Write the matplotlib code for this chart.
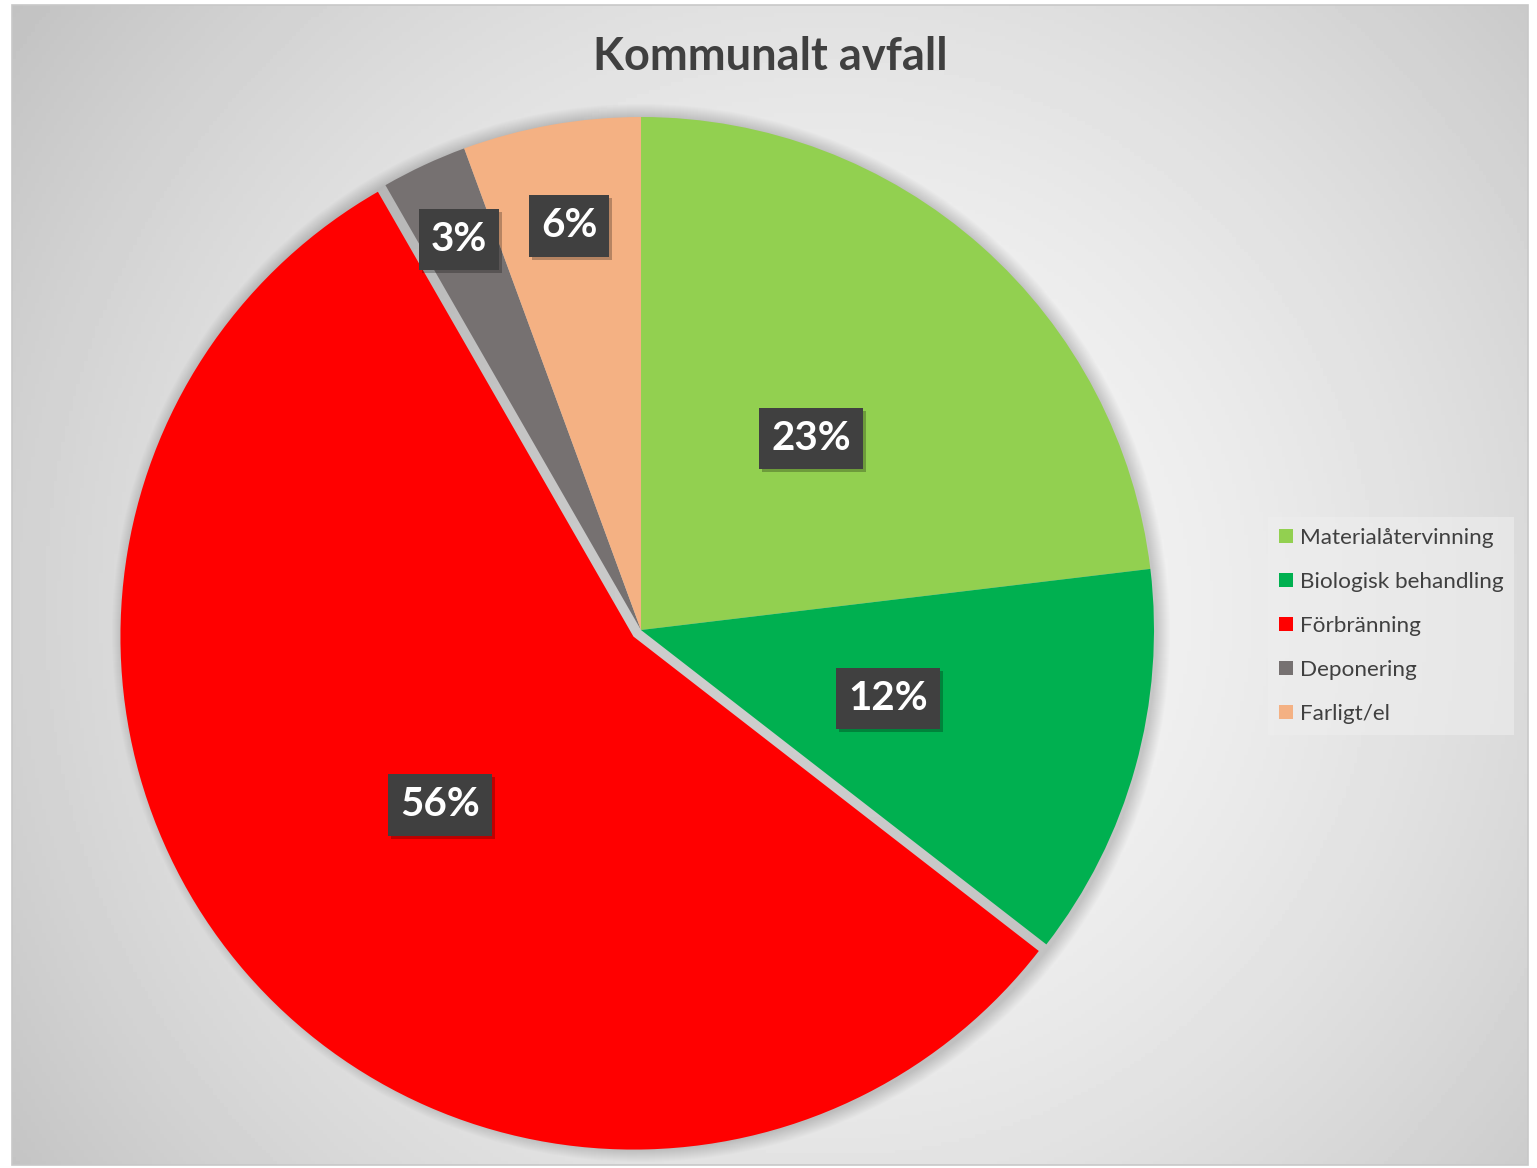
import numpy as np
import matplotlib.pyplot as plt
from matplotlib.patches import Rectangle, Circle
from matplotlib.transforms import offset_copy

# data
title = 'Kommunalt avfall'
categories = ['Materialåtervinning', 'Biologisk behandling', 'Förbränning',
              'Deponering', 'Farligt/el']
shares = [23.1, 12.4, 56.2, 2.7, 5.6]
colors = ['#92D050', '#00B050', '#FF0000', '#767171', '#F4B183']
explode = [0, 0, 10, 0, 0]          # pixels, red slice pulled out a bit
label_dist = [0.5, 0.5, 0.5, 0.84, 0.8]

plt.rcParams['font.family'] = ['Lato', 'DejaVu Sans']

W, H = 1537, 1168
fig = plt.figure(figsize=(W/100, H/100), dpi=100)
ax = fig.add_axes([0, 0, 1, 1])
ax.set_xlim(0, W)
ax.set_ylim(0, H)
ax.axis('off')

# chart area with radial gradient background
x0, x1, y0, y1 = 12, 1528, 3, 1163
gx, gy = np.meshgrid(np.linspace(x0, x1, 400), np.linspace(y0, y1, 300))
d = np.hypot(gx - 830, gy - 560)
g = np.clip(0.975 - 0.21*(d/1000)**1.6, 0, 1)
ax.imshow(g, extent=(x0, x1, y0, y1), origin='lower', cmap='gray',
          vmin=0, vmax=1, aspect='auto', zorder=0)
ax.add_patch(Rectangle((x0, y0), x1-x0, y1-y0, fill=False,
                       edgecolor='#c8c8c8', lw=1.2, zorder=1))

cx, cy, R = 641, H - 630, 513

# soft shadow round the pie
for k in range(14):
    ax.add_patch(Circle((cx, cy - 3), R + 16 - k, facecolor='black',
                        edgecolor='none', alpha=0.012, zorder=2))

wedges, _ = ax.pie(shares, colors=colors, explode=explode, startangle=90,
                   counterclock=False, center=(cx, cy), radius=R,
                   wedgeprops=dict(linewidth=0), frame=False)
for w in wedges:
    w.set_zorder(3)
ax.set_xlim(0, W)
ax.set_ylim(0, H)
ax.set_aspect('equal')

# data labels
for w, v, f in zip(wedges, shares, label_dist):
    a = np.deg2rad((w.theta1 + w.theta2) / 2)
    px = w.center[0] + f*R*np.cos(a)
    py = w.center[1] + f*R*np.sin(a)
    txt = '%d%%' % round(v)
    sh = offset_copy(ax.transData, fig=fig, x=3, y=-3, units='dots')
    ax.text(px, py, txt, transform=sh, ha='center', va='center', fontsize=29,
            fontweight='bold', color='none', zorder=4,
            bbox=dict(boxstyle='square,pad=0.3', facecolor='black',
                      edgecolor='none', alpha=0.25))
    ax.text(px, py, txt, ha='center', va='center', fontsize=29,
            fontweight='bold', color='white', zorder=5,
            bbox=dict(boxstyle='square,pad=0.3', facecolor='#404040',
                      edgecolor='none'))

ax.text(770, H - 57, title, ha='center', va='center', fontsize=32.5,
        fontweight='bold', color='#404040', zorder=5)

leg = ax.legend(wedges, categories, loc='upper left',
                bbox_to_anchor=(1268/W, 1 - 517/H), fontsize=16.2,
                handlelength=0.6, handleheight=0.6, handletextpad=0.3,
                labelspacing=1.06, borderpad=0.5, borderaxespad=0,
                frameon=True, fancybox=False)
leg.get_frame().set_facecolor('#eeeeee')
leg.get_frame().set_alpha(0.6)
leg.get_frame().set_edgecolor('none')
for t in leg.get_texts():
    t.set_color('#404040')

fig.savefig('out.png', dpi=100, facecolor='white')
